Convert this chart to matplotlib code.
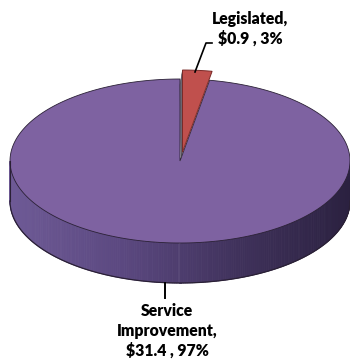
import numpy as np
import matplotlib
matplotlib.use("Agg")
import matplotlib.pyplot as plt
from matplotlib.patches import Polygon
from matplotlib.colors import LinearSegmentedColormap

# ---- data ----
categories = ["Legislated", "Service Improvement"]
amounts = [0.9, 31.4]
percents = [3, 97]
label_lines = [["Legislated,", "$0.9 , 3%"], ["Service", "Improvement,", "$31.4 , 97%"]]

# ---- geometry (pixels) ----
W, H = 350, 363
cx, cy, rx, ry, depth = 180.0, 161.0, 170.0, 82.0, 40.0
explode_px = 9.0

top_purple = "#7E62A1"
red = "#C0504D"
edge = "#2a2035"

fig = plt.figure(figsize=(3.5, 3.63), dpi=100)
ax = fig.add_axes([0, 0, 1, 1])
ax.set_xlim(0, W)
ax.set_ylim(H, 0)
ax.axis("off")

def P(theta_deg, ox=0.0, oy=0.0):
    t = np.radians(theta_deg)
    return cx + ox + rx * np.cos(t), cy + oy - ry * np.sin(t)

total = sum(amounts)
fracs = [a / total for a in amounts]
start = 90.0
angles = []
a0 = start
for f in fracs:
    a1 = a0 - 360 * f
    angles.append((a0, a1))
    a0 = a1

# ---- purple side (front half) with gradient ----
cmap = LinearSegmentedColormap.from_list("side", ["#6E5A96", "#5B4880", "#40325C", "#2B2140"])
ths = np.linspace(180, 360, 240)
for i in range(len(ths) - 1):
    x1, y1 = P(ths[i]); x2, y2 = P(ths[i + 1])
    t = ((x1 + x2) / 2 - (cx - rx)) / (2 * rx)
    poly = Polygon([(x1, y1), (x2, y2), (x2, y2 + depth), (x1, y1 + depth)],
                   closed=True, facecolor=cmap(t), edgecolor=cmap(t), lw=0.6)
    ax.add_patch(poly)
xs, ys = zip(*[P(t) for t in ths])
ax.plot(np.array(xs), np.array(ys) + depth, color=edge, lw=0.9)
ax.plot([cx - rx, cx - rx], [cy, cy + depth], color=edge, lw=0.8)
ax.plot([cx + rx, cx + rx], [cy, cy + depth], color=edge, lw=0.8)

# ---- purple top face ----
b0, b1 = angles[1]
arc = np.linspace(b0, b1, 400)
pts = [(cx, cy)] + [P(t) for t in arc]
ax.add_patch(Polygon(pts, closed=True, facecolor=top_purple, edgecolor=edge, lw=0.6))

# ---- red exploded slice ----
r0, r1 = angles[0]
mid = np.radians((r0 + r1) / 2)
ox = 2.5
oy = -explode_px * np.sin(mid)
ax.add_patch(Polygon([(cx + ox, cy + oy), P(r0, ox, oy), (P(r0)[0], P(r0)[1] + 6), (cx + ox - 1.5, cy + oy + 6)],
                     closed=True, facecolor="#6b6470", edgecolor="#3a3540", lw=0.4))
arc = np.linspace(r0, r1, 40)
pts = [(cx + ox, cy + oy)] + [P(t, ox, oy) for t in arc]
ax.add_patch(Polygon(pts, closed=True, facecolor=red, edgecolor="#7a2a28", lw=0.7))

# ---- labels ----
fnt = dict(family="Lato", fontweight="heavy", fontsize=11.3, color="black", ha="center", va="center")
ax.plot([212, 206, 195], [43, 43, 72], color="black", lw=1.2)
for k, line in enumerate(label_lines[0]):
    ax.text(250, 19 + 20 * k, line, **fnt)
ax.plot([165, 165], [283, 298], color="black", lw=1.4)
for k, line in enumerate(label_lines[1]):
    ax.text(167, 311 + 20 * k, line, **fnt)

fig.savefig("out.png", dpi=100, facecolor="white")
